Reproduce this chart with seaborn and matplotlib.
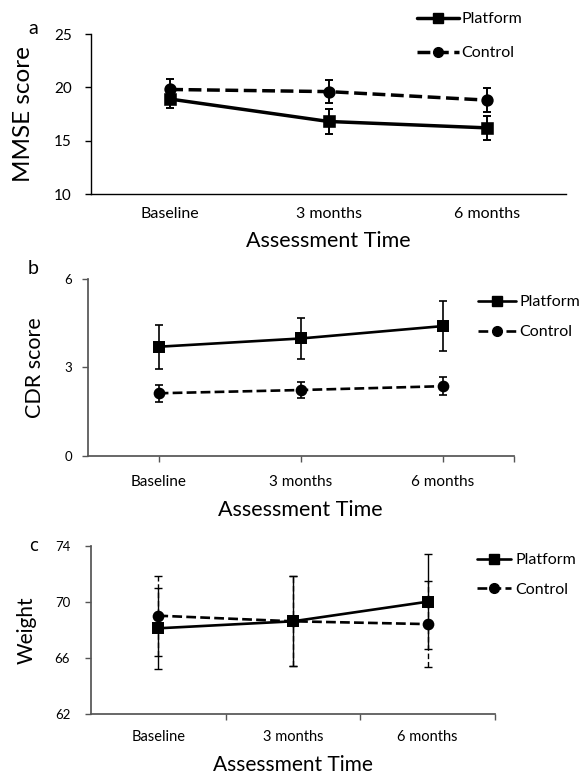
import numpy as np
import pandas as pd
import matplotlib
matplotlib.use("Agg")
import matplotlib.pyplot as plt
from matplotlib.lines import Line2D
import seaborn as sns

# categorias e valores
tempos = ["Baseline", "3 months", "6 months"]
grupos = ["Platform", "Control"]

mmse_platform = [18.9, 16.8, 16.2]
mmse_platform_err = [0.85, 1.2, 1.1]
mmse_control = [19.8, 19.6, 18.8]
mmse_control_err = [0.95, 1.1, 1.1]

cdr_platform = [3.70, 3.98, 4.40]
cdr_platform_err = [0.74, 0.69, 0.84]
cdr_control = [2.12, 2.23, 2.36]
cdr_control_err = [0.28, 0.27, 0.31]

peso_platform = [68.1, 68.6, 70.0]
peso_platform_err = [2.9, 3.2, 3.4]
peso_control = [69.0, 68.6, 68.4]
peso_control_err = [2.85, 3.2, 3.1]

sns.set_theme(style="ticks")
plt.rcParams["font.family"] = ["Lato", "DejaVu Sans"]
plt.rcParams["text.color"] = "black"
plt.rcParams["axes.labelcolor"] = "black"
plt.rcParams["xtick.color"] = "black"
plt.rcParams["ytick.color"] = "black"

fig = plt.figure(figsize=(5.85, 7.78), dpi=100)
W, H = 585, 778


def caixa(esq, dir_, topo, base):
    return [esq / W, 1 - base / H, (dir_ - esq) / W, (base - topo) / H]


def painel(ax, plat, plat_err, ctrl, ctrl_err, lw, ms, elw, cap, err_tracejado):
    df = pd.DataFrame({
        "tempo": tempos * 2,
        "valor": plat + ctrl,
        "grupo": ["Platform"] * 3 + ["Control"] * 3,
    })
    sns.pointplot(data=df, x="tempo", y="valor", hue="grupo", order=tempos,
                  hue_order=grupos, palette=["black", "black"],
                  markers=["s", "o"], linestyles=["-", "--"], errorbar=None,
                  markersize=ms, linewidth=lw, legend=False, ax=ax)
    pos = np.arange(len(tempos))
    ax.errorbar(pos, plat, yerr=plat_err, fmt="none", ecolor="black",
                elinewidth=elw, capsize=cap, capthick=elw, zorder=1)
    eb = ax.errorbar(pos, ctrl, yerr=ctrl_err, fmt="none", ecolor="black",
                     elinewidth=elw, capsize=cap, capthick=elw, zorder=1)
    if err_tracejado:
        eb[2][0].set_linestyle((0, (4, 2)))
    ax.set_xlim(-0.5, len(tempos) - 0.5)
    sns.despine(ax=ax)


def legenda(ax, x, y, lw, ms, fs, handlelen, espaco, pad_txt):
    hs = [Line2D([], [], color="black", lw=lw, ls="-", marker="s", markersize=ms),
          Line2D([], [], color="black", lw=lw, ls="--", marker="o", markersize=ms)]
    ax.legend(hs, grupos, loc="upper left", bbox_to_anchor=(x / W, 1 - y / H),
              bbox_transform=fig.transFigure, frameon=False, fontsize=fs,
              handlelength=handlelen, handletextpad=pad_txt, labelspacing=espaco,
              borderpad=0, borderaxespad=0)


def rotulo_y(ax, texto, fs, x_px, esq, larg):
    ax.set_ylabel(texto, fontsize=fs)
    ax.yaxis.set_label_coords((x_px - esq) / larg, 0.5)


# painel a
ax1 = fig.add_axes(caixa(91, 566, 34, 194))
painel(ax1, mmse_platform, mmse_platform_err, mmse_control, mmse_control_err,
       lw=2.5, ms=7, elw=1.4, cap=3, err_tracejado=False)
ax1.set_ylim(10, 25)
ax1.set_yticks([10, 15, 20, 25])
rotulo_y(ax1, "MMSE score", 17.5, 34, 91, 475)
ax1.set_xlabel("Assessment Time", fontsize=15.5, labelpad=7.5)
ax1.tick_params(axis="y", labelsize=11, length=4, width=1, pad=10)
ax1.tick_params(axis="x", labelsize=11.5, length=0, pad=9)
for s in ax1.spines.values():
    s.set_color("black")
    s.set_linewidth(1)
legenda(ax1, 417, 12, 2.5, 7, 11.5, 2.6, 1.25, 0.2)

# painel b
ax2 = fig.add_axes(caixa(87.7, 513.5, 279, 455.7))
painel(ax2, cdr_platform, cdr_platform_err, cdr_control, cdr_control_err,
       lw=1.9, ms=7, elw=1.2, cap=3, err_tracejado=False)
ax2.set_ylim(0, 6)
ax2.set_yticks([0, 3, 6])
rotulo_y(ax2, "CDR score", 15.5, 45, 87.7, 425.8)
ax2.set_xlabel("Assessment Time", fontsize=15.5, labelpad=7.5)
ax2.tick_params(axis="y", labelsize=9.5, length=4, width=1, color="#555555", pad=7)
ax2.tick_params(axis="x", labelsize=11, length=4, width=1, color="#555555", pad=10)
ax2.set_xticks([2.5], minor=True)
ax2.tick_params(axis="x", which="minor", length=4, width=1, color="#555555")
for s in ax2.spines.values():
    s.set_color("#555555")
legenda(ax2, 478, 295, 1.9, 7, 11.5, 2.35, 1.0, 0.25)

# painel c
ax3 = fig.add_axes(caixa(91, 495, 545.7, 713.7))
painel(ax3, peso_platform, peso_platform_err, peso_control, peso_control_err,
       lw=1.9, ms=7, elw=1, cap=3, err_tracejado=True)
ax3.set_ylim(62, 74)
ax3.set_yticks([62, 66, 70, 74])
rotulo_y(ax3, "Weight", 15, 37, 91, 404)
ax3.set_xlabel("Assessment Time", fontsize=15, labelpad=8)
ax3.tick_params(axis="y", labelsize=9.5, length=4, width=1, color="#555555", pad=11)
ax3.tick_params(axis="x", labelsize=10.5, length=0, pad=12)
ax3.set_xticks([0.5, 1.5, 2.5], minor=True)
ax3.tick_params(axis="x", which="minor", length=4, width=1, color="#555555")
for s in ax3.spines.values():
    s.set_color("#555555")
legenda(ax3, 477, 553, 1.9, 7, 11.5, 2.15, 0.95, 0.25)

# letras dos paineis
fig.text(33 / W, 1 - 29 / H, "a", fontsize=14, ha="center", va="center")
fig.text(33 / W, 1 - 269 / H, "b", fontsize=14, ha="center", va="center")
fig.text(34 / W, 1 - 546 / H, "c", fontsize=12, ha="center", va="center",
         family=["DejaVu Sans"])

fig.savefig("out.png", dpi=100)
